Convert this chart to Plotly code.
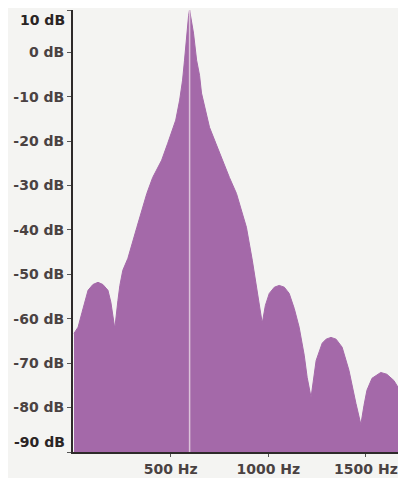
import plotly.graph_objects as go

# Spectrum envelope (frequency in Hz, level in dB)
freq_hz = [5, 26, 46, 77, 102, 128, 153, 179, 194, 204, 214, 230, 240, 255, 281,
           327, 378, 408, 454, 485, 526, 546, 561, 571, 582, 592, 597, 602, 617,
           633, 648, 658, 679, 699, 735, 765, 801, 837, 888, 918, 944, 959, 969,
           985, 1005, 1031, 1056, 1082, 1107, 1133, 1158, 1184, 1199, 1219, 1235,
           1245, 1276, 1296, 1321, 1347, 1378, 1413, 1449, 1474, 1490, 1505, 1531,
           1576, 1607, 1643, 1668, 1694]
level_db = [-63.3, -61.9, -58.6, -53.6, -52.3, -51.8, -52.3, -53.6, -56.3, -59.7,
            -62.2, -55.9, -52.5, -49.1, -46.4, -39.4, -31.8, -28.2, -24.3, -20.5,
            -15.3, -10.8, -6.3, -1.8, 4.3, 8.3, 9.5, 8.3, 4.3, -1.8, -5.2, -9.2,
            -13.1, -16.9, -20.9, -24.3, -28.2, -31.8, -39.4, -46.8, -54.3, -58.6,
            -61.0, -57.0, -54.3, -52.9, -52.5, -52.9, -54.3, -57.7, -61.9, -68.2,
            -73.2, -77.7, -72.7, -69.4, -65.5, -64.6, -64.2, -64.6, -66.4, -71.6,
            -79.1, -83.8, -79.5, -76.1, -73.4, -72.1, -72.5, -73.9, -75.7, -78.4]

peak_hz = 597
peak_db = 9.5

y_min, y_max = -90, 9.5
x_min, x_max = 0, 1700

ytick_vals = [9.5, 0, -10, -20, -30, -40, -50, -60, -70, -80, -90]
ytick_text = ["10 dB", "0 dB", "-10 dB", "-20 dB", "-30 dB", "-40 dB", "-50 dB",
              "-60 dB", "-70 dB", "-80 dB", "-90 dB"]
xtick_vals = [500, 1000, 1500]
xtick_text = ["500 Hz", "1000 Hz", "1500 Hz"]

FILL = "#a469a9"
TXT = "#4a4242"
BG = "#f4f4f2"
FONT = dict(family="DejaVu Sans", size=14, color=TXT, weight="bold")

fig = go.Figure()
fig.add_trace(go.Scatter(x=freq_hz, y=[y_min] * len(freq_hz), mode="lines",
                         line=dict(width=0), hoverinfo="skip", showlegend=False))
fig.add_trace(go.Scatter(x=freq_hz, y=level_db, mode="lines", fill="tonexty",
                         fillcolor=FILL, line=dict(color=FILL, width=1),
                         showlegend=False))
fig.add_trace(go.Scatter(x=[peak_hz, peak_hz], y=[y_min, peak_db], mode="lines",
                         line=dict(color="#dcc3da", width=1.5), showlegend=False))

# inner tick labels (end labels drawn as annotations, shifted inward)
inner_text = ["" if i in (0, len(ytick_text) - 1) else t for i, t in enumerate(ytick_text)]

# the page body has an 8px margin; size the figure so the plot lands where the reference has it
fig.update_layout(
    width=398, height=470,
    margin=dict(l=65, r=1, t=2, b=26, autoexpand=False),
    paper_bgcolor=BG, plot_bgcolor=BG,
    font=FONT,
    xaxis=dict(range=[x_min, x_max], tickvals=xtick_vals, ticktext=xtick_text,
               showgrid=False, zeroline=False, showline=True, linecolor="#2e2a2a",
               linewidth=2, ticks="outside", ticklen=3, tickcolor="#555",
               tickfont=FONT, automargin=False),
    yaxis=dict(range=[y_min, y_max], tickvals=ytick_vals, ticktext=inner_text,
               showgrid=False, zeroline=False, showline=True, linecolor="#2e2a2a",
               linewidth=2, ticks="outside", ticklen=4, tickcolor="#555",
               tickfont=FONT, automargin=False),
)

for val, txt, anchor in [(ytick_vals[0], ytick_text[0], "top"),
                         (ytick_vals[-1], ytick_text[-1], "bottom")]:
    fig.add_annotation(x=0, xref="paper", y=val, yref="y", text=txt,
                       showarrow=False, xanchor="right", yanchor=anchor,
                       xshift=-6, font=dict(FONT, color="#2a2424"))

fig.write_html("out.html")
